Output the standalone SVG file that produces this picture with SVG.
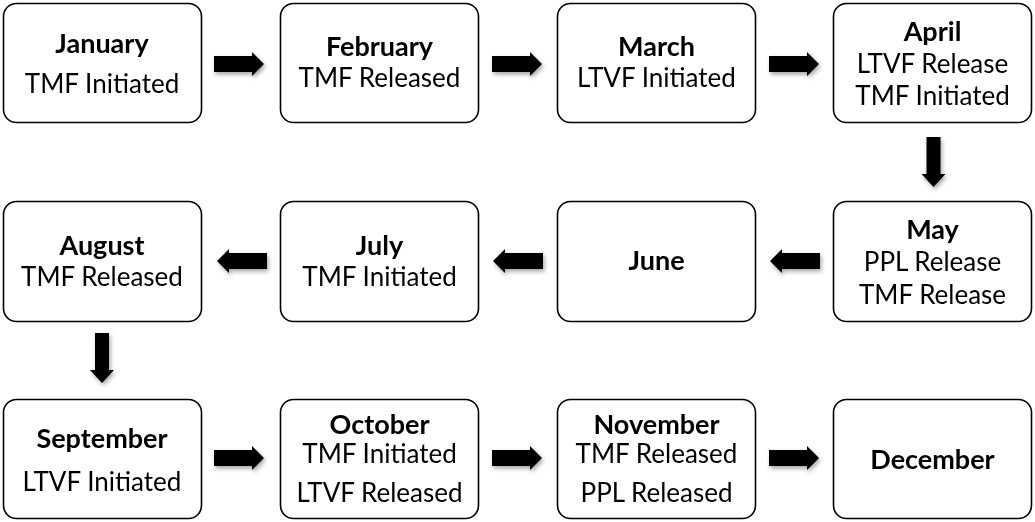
<svg xmlns="http://www.w3.org/2000/svg" xmlns:xlink="http://www.w3.org/1999/xlink" width="1035" height="522" viewBox="0 0 1035 522">
<style>
.box{fill:#fff;stroke:#000;stroke-width:1.6}
.t{font-family:Lato,"Open Sans","Liberation Sans",sans-serif;font-size:26px;text-anchor:middle;fill:#000}
.b{font-weight:bold;font-size:27px}
.arr{fill:#000}
</style>
<defs>
<filter id="sh" x="-30%" y="-30%" width="160%" height="160%">
<feDropShadow dx="1.5" dy="2.5" stdDeviation="2" flood-color="#000" flood-opacity="0.35"/>
</filter>
<path id="ar" d="M0,-8 H38 V-12 L50,0 L38,12 V8 H0 Z"/>
<path id="al" d="M0,0 L12,-12 V-8 H50 V8 H12 V12 Z"/>
<path id="ad" d="M-7,0 H7 V37 H12 L0,50 L-12,37 H-7 Z"/>
</defs>
<rect width="1035" height="522" fill="#fff"/>
<g id="connectors" class="arr" filter="url(#sh)">
<use xlink:href="#ar" href="#ar" x="214" y="64"/>
<use xlink:href="#ar" href="#ar" x="492" y="64"/>
<use xlink:href="#ar" href="#ar" x="769" y="64"/>
<use xlink:href="#ad" href="#ad" x="933.5" y="137"/>
<use xlink:href="#al" href="#al" x="770" y="261"/>
<use xlink:href="#al" href="#al" x="493" y="261"/>
<use xlink:href="#al" href="#al" x="217" y="261"/>
<use xlink:href="#ad" href="#ad" x="102" y="333"/>
<use xlink:href="#ar" href="#ar" x="214" y="458"/>
<use xlink:href="#ar" href="#ar" x="492" y="458"/>
<use xlink:href="#ar" href="#ar" x="769" y="458"/>
</g>
<g id="january"><rect class="box" x="3.5" y="3.5" width="198" height="119" rx="13"/>
<text class="t b" x="102" y="53">January</text><text class="t" x="102" y="93">TMF Initiated</text></g>
<g id="february"><rect class="box" x="280.5" y="3.5" width="198" height="119" rx="13"/>
<text class="t b" x="379.5" y="56">February</text><text class="t" x="379.5" y="87">TMF Released</text></g>
<g id="march"><rect class="box" x="557.5" y="3.5" width="198" height="119" rx="13"/>
<text class="t b" x="656.5" y="56">March</text><text class="t" x="656.5" y="87">LTVF Initiated</text></g>
<g id="april"><rect class="box" x="833.5" y="3.5" width="198" height="119" rx="13"/>
<text class="t b" x="932.5" y="41">April</text><text class="t" x="932.5" y="73">LTVF Release</text><text class="t" x="932.5" y="105">TMF Initiated</text></g>
<g id="may"><rect class="box" x="833.5" y="201.5" width="198" height="120" rx="13"/>
<text class="t b" x="932.5" y="239">May</text><text class="t" x="932.5" y="271">PPL Release</text><text class="t" x="932.5" y="304">TMF Release</text></g>
<g id="june"><rect class="box" x="557.5" y="201.5" width="198" height="120" rx="13"/>
<text class="t b" x="656.5" y="270">June</text></g>
<g id="july"><rect class="box" x="280.5" y="201.5" width="198" height="120" rx="13"/>
<text class="t b" x="379.5" y="255">July</text><text class="t" x="379.5" y="286">TMF Initiated</text></g>
<g id="august"><rect class="box" x="3.5" y="201.5" width="198" height="120" rx="13"/>
<text class="t b" x="102" y="255">August</text><text class="t" x="102" y="286">TMF Released</text></g>
<g id="september"><rect class="box" x="3.5" y="399.5" width="198" height="119" rx="13"/>
<text class="t b" x="102" y="448">September</text><text class="t" x="102" y="491">LTVF Initiated</text></g>
<g id="october"><rect class="box" x="280.5" y="399.5" width="198" height="119" rx="13"/>
<text class="t b" x="379.5" y="434">October</text><text class="t" x="379.5" y="463">TMF Initiated</text><text class="t" x="379.5" y="502">LTVF Released</text></g>
<g id="november"><rect class="box" x="557.5" y="399.5" width="198" height="119" rx="13"/>
<text class="t b" x="656.5" y="434">November</text><text class="t" x="656.5" y="463">TMF Released</text><text class="t" x="656.5" y="502">PPL Released</text></g>
<g id="december"><rect class="box" x="833.5" y="399.5" width="198" height="119" rx="13"/>
<text class="t b" x="932.5" y="469">December</text></g>
</svg>
